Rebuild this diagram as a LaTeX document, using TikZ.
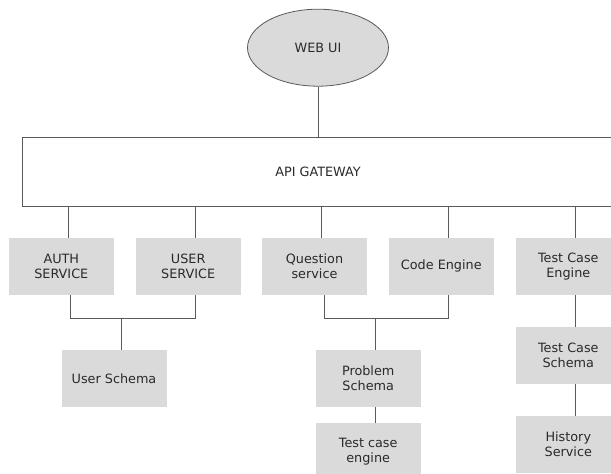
\documentclass[tikz,border=0pt]{standalone}
\usepackage{fontspec}
\setmainfont{DejaVu Sans}
\usetikzlibrary{positioning,calc,shapes.geometric}

\definecolor{boxgray}{HTML}{DADADA}
\definecolor{linegray}{HTML}{5A5A5A}
\definecolor{textgray}{HTML}{2A2A2A}

\begin{document}
\begin{tikzpicture}[
    x=1pt, y=1pt,
    node distance=31.7pt,
    every node/.style={font=\fontsize{12.8}{15}\selectfont, text=textgray, align=center, inner sep=0pt},
    svc/.style={fill=boxgray, minimum width=105pt, minimum height=57pt},
    link/.style={draw=linegray, line width=0.8pt}
]
    \useasboundingbox (0,0) rectangle (611,474);
    \clip (0,0) rectangle (611,474);

    % Front end
    \node[ellipse, draw=linegray, line width=0.8pt, fill=boxgray,
          minimum width=141pt, minimum height=77pt] (webui) at (318,426.3) {WEB UI};

    % Gateway
    \node[draw=linegray, line width=0.8pt, fill=white,
          minimum width=592pt, minimum height=69pt] (gateway) at (318,302.5) {API GATEWAY};

    % Services
    \node[svc] (auth)   at (61.3,207.6)  {AUTH\\SERVICE};
    \node[svc] (user)   at (188.2,207.6) {USER\\SERVICE};
    \node[svc] (quest)  at (314.5,207.6) {Question\\service};
    \node[svc] (code)   at (441.3,207.6) {Code Engine};
    \node[svc] (tceng)  at (568.3,207.6) {Test Case\\Engine};

    % Schemas and engines
    \node[svc] (uschema) at (114,95.4)  {User Schema};
    \node[svc] (pschema) at (368.2,95.6) {Problem\\Schema};
    \node[svc, below=16pt of pschema] (tcengine) {Test case\\engine};
    \node[svc, below=of tceng] (tcschema) {Test Case\\Schema};
    \node[svc, below=of tcschema] (history) {History\\Service};

    % Connectors
    \draw[link] (webui.south) -- (webui.south |- gateway.north);
    \foreach \s in {auth,user,quest,code,tceng}
        \draw[link] ([xshift=7pt]\s.north) -- ([xshift=7pt]\s.north |- gateway.south);

    % Left bus
    \coordinate (ubus) at ($(auth.south)+(0,-23.3)$);
    \draw[link] ([xshift=9pt]auth.south) |- ([xshift=7pt]user.south |- ubus) -- ([xshift=7pt]user.south);
    \draw[link] ([xshift=7pt]uschema.north) -- ([xshift=7pt]uschema.north |- ubus);

    % Middle bus
    \coordinate (pbus) at ($(quest.south)+(0,-23.3)$);
    \draw[link] ([xshift=10pt]quest.south) |- ([xshift=7pt]code.south |- pbus) -- ([xshift=7pt]code.south);
    \draw[link] ([xshift=7.5pt]pschema.north) -- ([xshift=7.5pt]pschema.north |- pbus);
    \draw[link] ([xshift=7pt]pschema.south) -- ([xshift=7pt]tcengine.north);

    % Right column
    \draw[link] ([xshift=7pt]tceng.south) -- ([xshift=7pt]tcschema.north);
    \draw[link] ([xshift=7pt]tcschema.south) -- ([xshift=7pt]history.north);
\end{tikzpicture}
\end{document}
